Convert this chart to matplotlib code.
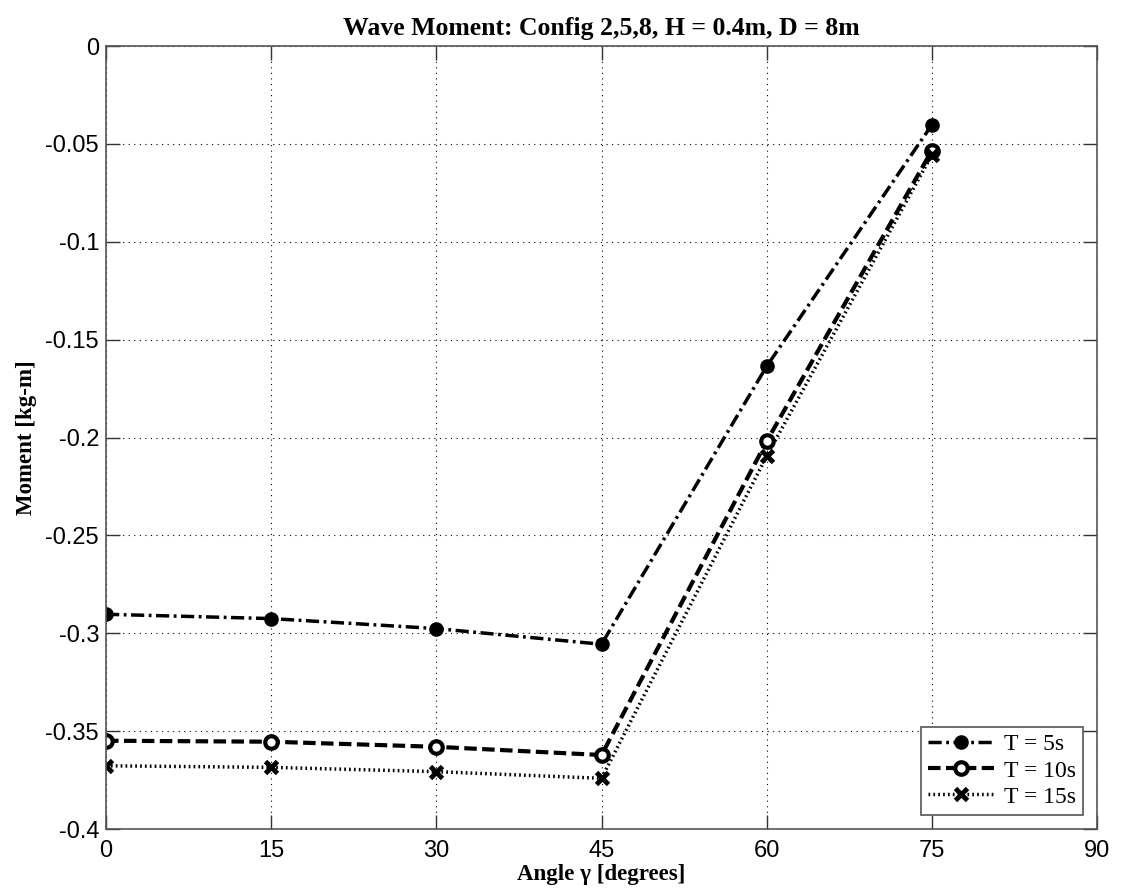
import numpy as np
import matplotlib
matplotlib.use('Agg')
import matplotlib.pyplot as plt

# данные
angles = [0, 15, 30, 45, 60, 75]
moment_t5 = [-0.2903, -0.2925, -0.2976, -0.3056, -0.1636, -0.0403]
moment_t10 = [-0.3549, -0.3554, -0.3580, -0.3622, -0.2019, -0.0534]
moment_t15 = [-0.3677, -0.3685, -0.3707, -0.3741, -0.2095, -0.0556]
labels = ['T = 5s', 'T = 10s', 'T = 15s']

xticks = [0, 15, 30, 45, 60, 75, 90]
yticks = [0, -0.05, -0.1, -0.15, -0.2, -0.25, -0.3, -0.35, -0.4]
ytick_labels = ['0', '-0.05', '-0.1', '-0.15', '-0.2', '-0.25', '-0.3', '-0.35', '-0.4']

serif = ['Liberation Serif', 'DejaVu Serif']
sans = ['Liberation Sans', 'DejaVu Sans']

fig = plt.figure(figsize=(11.21, 8.94), dpi=100)
ax = fig.add_axes([0.0946, 0.0727, 0.8840, 0.8758])

ax.plot(angles, moment_t5, linestyle=(0, (3.8, 1.3, 0.8, 1.3)), color='black', lw=2.5,
        marker='o', markersize=9.5, markerfacecolor='black', label=labels[0])
ax.plot(angles, moment_t10, linestyle=(0, (3.0, 1.3)), color='black', lw=3,
        marker='o', markersize=9, markerfacecolor='white', markeredgewidth=3, label=labels[1])
ax.plot(angles, moment_t15, linestyle=(0, (0.5, 0.9)), color='black', lw=2.5,
        marker='x', markersize=8, markeredgewidth=3.5, label=labels[2])

ax.set_xlim(0, 90)
ax.set_ylim(-0.4, 0)
ax.set_xticks(xticks)
ax.set_yticks(yticks)
ax.set_yticklabels(ytick_labels)
ax.tick_params(direction='in', length=10, width=1, top=True, right=True,
               labelsize=17, colors='#333333', labelcolor='black')
ax.tick_params(axis='x', pad=8)
ax.tick_params(axis='y', pad=5)
for lab in ax.get_xticklabels() + ax.get_yticklabels():
    lab.set_family(sans)

ax.grid(True, linestyle=(0, (1, 4)), color='black', lw=0.8)
for sp in ax.spines.values():
    sp.set_color('#555555')
    sp.set_linewidth(1.2)

ax.set_title('Wave Moment: Config 2,5,8, H = 0.4m, D = 8m',
             family=serif, fontweight='bold', fontsize=18.5, pad=8)
ax.set_xlabel('Angle \u03b3 [degrees]', family=serif, fontweight='bold', fontsize=16.5, labelpad=1)
ax.set_ylabel('Moment [kg-m]', family=serif, fontweight='bold', fontsize=16.5, labelpad=6)

leg = ax.legend(loc='lower right', prop={'family': serif, 'size': 17},
                fancybox=False, framealpha=1, edgecolor='#555555',
                handlelength=2.8, handletextpad=0.4, borderaxespad=0.6,
                labelspacing=0.2, borderpad=0.3)
leg.get_frame().set_linewidth(1.2)

plt.savefig('out.png', dpi=100)
